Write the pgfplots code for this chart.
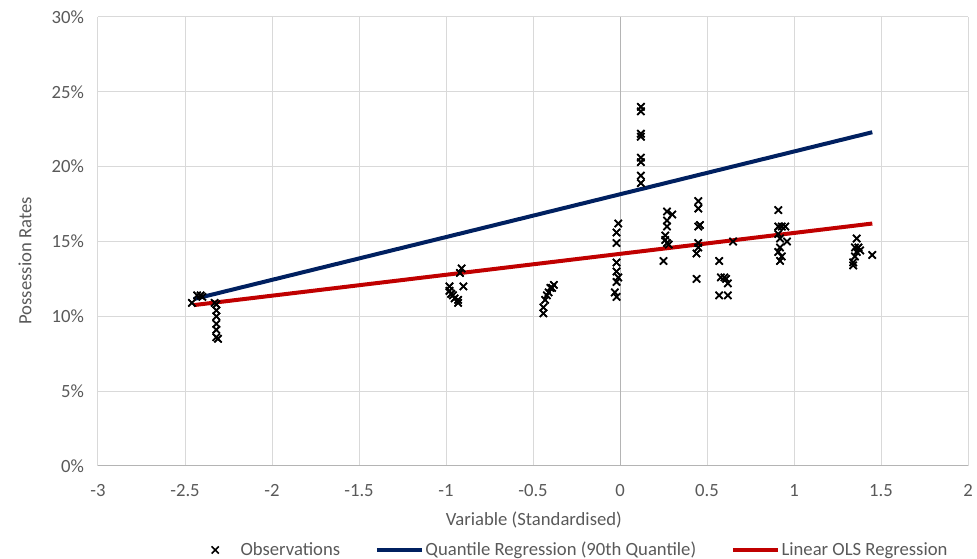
\documentclass[border=0pt]{standalone}
\usepackage{fontspec}
\setmainfont{Carlito}
\usepackage{pgfplots}
\usepackage{pgfplotstable}
\pgfplotsset{compat=1.18}
\definecolor{txtgray}{HTML}{595959}
\definecolor{gridgray}{HTML}{D9D9D9}
\definecolor{axgray}{HTML}{B4B4B4}
\definecolor{qblue}{HTML}{002060}
\definecolor{olsred}{HTML}{C00000}

\pgfplotsset{
  marklegend/.style={legend image code/.code={%
    \draw[##1, only marks] plot coordinates {(3pt,0pt)};
    \path[draw=none] (0pt,0pt) -- (21pt,0pt);}},
  linelegend/.style={legend image code/.code={%
    \draw[##1] (0pt,0pt) -- (34pt,0pt);}},
}

% observations: standardised variable vs possession rate (%)
\pgfplotstableread{
x y
-2.46 10.9
-2.43 11.4
-2.41 11.4
-2.40 11.3
-2.33 10.9
-2.32 10.8
-2.32 10.4
-2.32 10.0
-2.32 9.5
-2.32 9.1
-2.32 8.6
-2.31 8.5
-0.98 12.0
-0.98 11.7
-0.97 11.5
-0.96 11.4
-0.95 11.2
-0.93 11.1
-0.93 10.9
-0.92 12.9
-0.91 13.2
-0.90 12.0
-0.44 10.2
-0.44 10.6
-0.43 11.1
-0.42 11.4
-0.41 11.6
-0.40 11.9
-0.39 11.9
-0.38 12.1
-0.01 16.2
-0.02 15.6
-0.02 14.9
-0.02 13.6
-0.02 13.0
-0.01 12.6
-0.02 12.3
-0.03 11.6
-0.02 11.3
0.12 24.0
0.12 23.7
0.12 22.2
0.12 22.0
0.12 20.6
0.12 20.3
0.12 19.4
0.12 18.9
0.27 17.0
0.30 16.8
0.27 16.4
0.27 16.0
0.26 15.4
0.26 15.1
0.27 14.9
0.28 14.8
0.25 13.7
0.45 17.7
0.45 17.2
0.46 16.1
0.45 16.0
0.45 14.9
0.45 14.6
0.44 14.2
0.44 12.5
0.57 13.7
0.58 12.6
0.60 12.6
0.61 12.5
0.62 12.2
0.57 11.4
0.62 11.4
0.65 15.0
0.91 17.1
0.91 16.0
0.93 16.0
0.95 16.0
0.91 15.5
0.92 15.2
0.96 15.0
0.92 14.6
0.91 14.3
0.93 14.0
0.92 13.7
1.36 15.2
1.35 14.6
1.37 14.6
1.36 14.3
1.38 14.4
1.35 14.0
1.34 13.6
1.34 13.4
1.45 14.1
}\obsdata

\begin{document}
\begin{tikzpicture}[font=\fontsize{14pt}{17pt}\selectfont]
\path[use as bounding box] (-73.5pt,-69.75pt) rectangle (659.25pt,349.5pt);
\begin{axis}[
  at={(0,0)}, anchor=south west,
  scale only axis, width=652.5pt, height=336.75pt,
  xmin=-3, xmax=2, ymin=0, ymax=30,
  xtick={-3,-2.5,-2,-1.5,-1,-0.5,0,0.5,1,1.5,2},
  ytick={0,5,10,15,20,25,30},
  grid=major, grid style={gridgray, line width=0.75pt},
  axis line style={draw=none},
  major tick length=0pt,
  /pgf/number format/assume math mode=true,
  yticklabel={\pgfmathprintnumber{\tick}\%},
  ticklabel style={text=txtgray, font=\fontsize{14pt}{17pt}\selectfont},
  yticklabel style={xshift=-7pt},
  xticklabel style={yshift=-10pt},
  xlabel={Variable (Standardised)},
  ylabel={Possession Rates},
  label style={text=txtgray, font=\fontsize{14pt}{17pt}\selectfont},
  xlabel style={at={(axis description cs:0.501,-0.12)}, anchor=center},
  ylabel style={at={(axis description cs:-0.084,0.457)}, anchor=center},
  legend columns=3,
  legend style={at={(axis description cs:0.554,-0.187)}, anchor=center,
    draw=none, fill=none, text=txtgray, font=\fontsize{14pt}{17pt}\selectfont,
    nodes={inner sep=1pt},
    /tikz/every even column/.append style={column sep=25pt}},
]
\draw[axgray, line width=0.75pt] (axis cs:0,0) -- (axis cs:0,30);
\draw[axgray, line width=0.75pt] (axis cs:-3,0) -- (axis cs:2,0);

\addplot[only marks, mark=x, mark size=3.8pt, line width=1.2pt, black, marklegend]
  table[x=x, y=y] {\obsdata};
\addlegendentry{Observations}

\addplot[qblue, line width=3pt, no marks, linelegend]
  coordinates {(-2.45,11.15) (1.45,22.3)};
\addlegendentry{Quantile Regression (90th Quantile)}

\addplot[olsred, line width=3pt, no marks, linelegend]
  coordinates {(-2.45,10.75) (1.45,16.2)};
\addlegendentry{Linear OLS Regression}

% marks again so that they sit above the lines
\addplot[only marks, mark=x, mark size=3.8pt, line width=1.2pt, black, forget plot]
  table[x=x, y=y] {\obsdata};
\end{axis}
\end{tikzpicture}
\end{document}
